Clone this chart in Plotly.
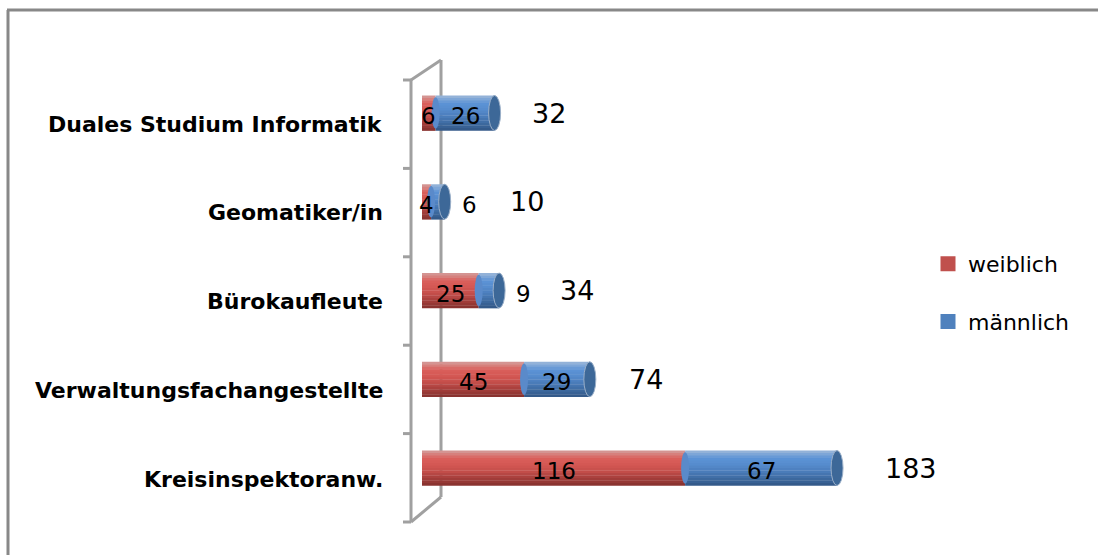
import numpy as np
import plotly.graph_objects as go

# Ausbildungs- und Studiengänge (von oben nach unten)
categories = [
    "Duales Studium Informatik",
    "Geomatiker/in",
    "Bürokaufleute",
    "Verwaltungsfachangestellte",
    "Kreisinspektoranw.",
]
weiblich = [6, 4, 25, 45, 116]
maennlich = [26, 6, 9, 29, 67]
series_names = ["weiblich", "männlich"]

totals = [w + m for w, m in zip(weiblich, maennlich)]

# --- styling -------------------------------------------------------------
FONT = "DejaVu Sans"
RED_KEYS = ["#D49492", "#DA5F5B", "#D45753", "#C44E4A", "#A63F3C", "#8A3330"]
BLUE_KEYS = ["#93B2D8", "#5C93D6", "#568BCD", "#4B7DBB", "#3F6CA3", "#345A8A"]
LEGEND_COLORS = {"w": "#C0504D", "m": "#4F81BD"}
BAR_W = 0.394                       # bar thickness in category units
N_BANDS = 14


def gradient(keys, n):
    """Interpolate a list of hex colours into n evenly spaced shades."""
    rgb = np.array([[int(k[i:i + 2], 16) for i in (1, 3, 5)] for k in keys], float)
    pos = np.linspace(0, 1, len(keys))
    out = []
    for t in np.linspace(0, 1, n):
        c = [np.interp(t, pos, rgb[:, ch]) for ch in range(3)]
        out.append("#%02X%02X%02X" % tuple(int(round(v)) for v in c))
    return out


band_w = BAR_W / N_BANDS

# label placement for the männlich segments and the totals
maennlich_label_pos = ["inside", "outside", "outside", "inside", "inside"]
total_shift = [35, 63, 59, 37, 46]

# pixel geometry of the plotting area
L, R, T, B = 395, 163, 55, 25
W_PX, H_PX = 1098, 555
X0_PX, PX_PER_UNIT = 422, 2.268     # x = 0 position and scale
Y0_PX, PX_PER_CAT = 113, 88.75      # first category centre and spacing


def px2x(px):
    return (px - X0_PX) / PX_PER_UNIT


def py2y(py):
    return (py - Y0_PX) / PX_PER_CAT


def px2paper(px):
    return (px - L) / (W_PX - L - R)


def py2paper(py):
    return (H_PX - B - py) / (H_PX - T - B)


fig = go.Figure()

# cylinder-like bars: each series is drawn as horizontal shading bands
for name, vals, base, keys, grp in [
    (series_names[0], weiblich, [0] * len(weiblich), RED_KEYS, "w"),
    (series_names[1], maennlich, weiblich, BLUE_KEYS, "m"),
]:
    for j, col in enumerate(gradient(keys, N_BANDS)):
        fig.add_trace(go.Bar(
            y=categories, x=vals, base=base, orientation="h",
            width=band_w * 1.15, offset=-BAR_W / 2 + j * band_w,
            marker=dict(color=col, line=dict(width=0)),
            name=name, legendgroup=grp, showlegend=False,
            hoverinfo="skip",
        ))
    # legend entry (thick outline enlarges the legend square)
    fig.add_trace(go.Bar(
        y=[None], x=[None], orientation="h", name=name, legendgroup=grp,
        marker=dict(color=LEGEND_COLORS[grp],
                    line=dict(color=LEGEND_COLORS[grp], width=3)),
        showlegend=True, hoverinfo="skip",
    ))

shapes = []
# junction between red and blue cylinder parts
for i, w in enumerate(weiblich):
    shapes.append(dict(
        type="circle", xref="x", yref="y", xsizemode="pixel", xanchor=w,
        x0=-4, x1=4, y0=i - BAR_W / 2 + 0.02, y1=i + BAR_W / 2 - 0.02,
        fillcolor="#5A8ACA", line=dict(width=0), layer="above",
    ))
# end caps
for i, t in enumerate(totals):
    shapes.append(dict(
        type="circle", xref="x", yref="y", xsizemode="pixel", xanchor=t,
        x0=-6, x1=6, y0=i - BAR_W / 2, y1=i + BAR_W / 2,
        fillcolor="#3D6898", line=dict(color="#9AAFC8", width=1), layer="above",
    ))

# 3-D axis wall
GRAY = "#A0A0A0"
front_x, back_x = px2x(411), px2x(441)
front_top, front_bot = py2y(80), py2y(522)
back_top, back_bot = py2y(60), py2y(497)
wall = [
    (back_x, back_top, back_x, back_bot, "below"),
    (front_x, front_top, front_x, front_bot, "above"),
    (front_x, front_top, back_x, back_top, "above"),
    (front_x, front_bot, back_x, back_bot, "above"),
]
for x0, y0, x1, y1, layer in wall:
    shapes.append(dict(type="line", xref="x", yref="y", x0=x0, y0=y0, x1=x1, y1=y1,
                       line=dict(color=GRAY, width=3), layer=layer))
for k in range(len(categories) + 1):
    yk = front_top + k * (front_bot - front_top) / len(categories)
    shapes.append(dict(type="line", xref="x", yref="y", x0=px2x(403), x1=front_x,
                       y0=yk, y1=yk, line=dict(color=GRAY, width=3)))

# outer frame of the chart
shapes.append(dict(type="line", xref="paper", yref="paper",
                   x0=px2paper(7), x1=px2paper(1098), y0=py2paper(10), y1=py2paper(10),
                   line=dict(color="#888888", width=3)))
shapes.append(dict(type="line", xref="paper", yref="paper",
                   x0=px2paper(8), x1=px2paper(8), y0=py2paper(10), y1=py2paper(556),
                   line=dict(color="#888888", width=3)))

annotations = []
# category labels, aligned with the front wall
for i, c in enumerate(categories):
    annotations.append(dict(
        text=c, xref="paper", yref="y", x=0, y=i, xanchor="right", yanchor="middle",
        xshift=-10, yshift=-11, showarrow=False,
        font=dict(family=FONT, size=22, color="#000000", weight="bold"),
    ))
# segment value labels
seg_font = dict(family=FONT, size=23, color="#000000")
for i, c in enumerate(categories):
    w, m = weiblich[i], maennlich[i]
    annotations.append(dict(
        text=str(w), x=w / 2, y=i, xref="x", yref="y", showarrow=False,
        yshift=-3, font=seg_font,
    ))
    if maennlich_label_pos[i] == "inside":
        annotations.append(dict(
            text=str(m), x=w + m / 2, y=i, xref="x", yref="y", showarrow=False,
            yshift=-3, font=seg_font,
        ))
    else:
        annotations.append(dict(
            text=str(m), x=w + m, y=i, xref="x", yref="y", showarrow=False,
            xanchor="left", xshift=15, yshift=-3, font=seg_font,
        ))
# totals
for i, t in enumerate(totals):
    annotations.append(dict(
        text=str(t), x=t, y=i, xref="x", yref="y", showarrow=False,
        xanchor="left", xshift=total_shift[i],
        font=dict(family=FONT, size=27, color="#000000"),
    ))

fig.update_layout(
    width=W_PX, height=H_PX,
    margin=dict(l=L, r=R, t=T, b=B, pad=0),
    barmode="overlay",
    paper_bgcolor="white", plot_bgcolor="white",
    xaxis=dict(range=[px2x(L), px2x(W_PX - R)], visible=False, fixedrange=True),
    yaxis=dict(type="category", categoryorder="array", categoryarray=categories,
               range=[py2y(H_PX - B), py2y(T)], showticklabels=False,
               showgrid=False, zeroline=False, showline=False, ticks=""),
    legend=dict(x=px2paper(928), y=py2paper(243), xanchor="left", yanchor="top",
                traceorder="grouped", tracegroupgap=26,
                font=dict(family=FONT, size=22, color="#000000"),
                bgcolor="rgba(0,0,0,0)"),
    shapes=shapes,
    annotations=annotations,
    showlegend=True,
)

fig.write_html("out.html")
